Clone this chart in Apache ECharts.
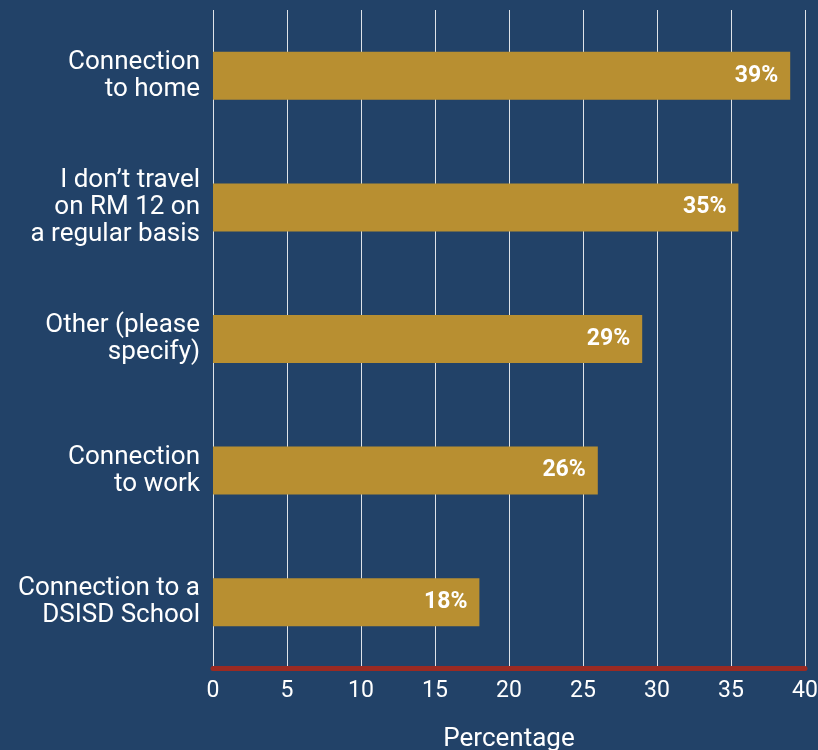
<!DOCTYPE html>
<html>
<head>
<meta charset="utf-8">
<script src="https://cdn.jsdelivr.net/npm/echarts@6/dist/echarts.min.js"></script>
<style>
html,body{margin:0;padding:0;background:#224268;}
#chart{width:818px;height:750px;}
</style>
</head>
<body>
<div id="chart"></div>
<script>
var categories = ["Connection\nto home", "I don\u2019t travel\non RM 12 on\na regular basis", "Other (please\nspecify)", "Connection\nto work", "Connection to a\nDSISD School"];
var values = [39, 35.5, 29, 26, 18];
var valueLabels = ["39%", "35%", "29%", "26%", "18%"];
var xTicks = [0, 5, 10, 15, 20, 25, 30, 35, 40];

var chart = echarts.init(document.getElementById('chart'));
chart.setOption({
  backgroundColor: '#224268',
  animation: false,
  grid: {left: 213, right: 13, top: 10, bottom: 82, containLabel: false, outerBoundsMode: 'none'},
  xAxis: {
    type: 'value', min: 0, max: 40, interval: 5,
    name: 'Percentage', nameLocation: 'middle', nameGap: 58,
    nameTextStyle: {color: '#ffffff', fontSize: 26, fontFamily: 'Roboto'},
    axisLine: {show: true, lineStyle: {color: '#9b2a22', width: 5}},
    axisTick: {show: false},
    axisLabel: {color: '#ffffff', fontSize: 23, fontFamily: 'Roboto', margin: 12,
      formatter: function(v){ return xTicks.indexOf(v) >= 0 ? String(v) : ''; }},
    splitLine: {show: true, lineStyle: {color: 'rgba(255,255,255,0.85)', width: 1}}
  },
  yAxis: {
    type: 'category', data: categories, inverse: true,
    axisLine: {show: false}, axisTick: {show: false},
    axisLabel: {color: '#ffffff', fontSize: 26, fontFamily: 'Roboto', lineHeight: 27, align: 'right', margin: 13},
    splitLine: {show: false}
  },
  series: [{
    type: 'bar', data: values, barWidth: 48,
    itemStyle: {color: '#b88f31'},
    label: {show: true, position: 'insideRight', distance: 12, color: '#ffffff', fontSize: 23, fontWeight: 'bold', fontFamily: 'Roboto',
      formatter: function(p){ return valueLabels[p.dataIndex]; }}
  }]
});
</script>
</body>
</html>
